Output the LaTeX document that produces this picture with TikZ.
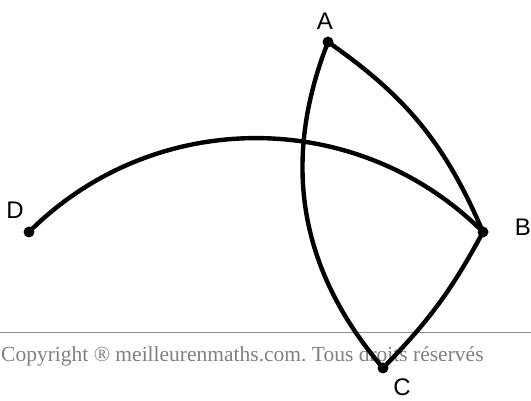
\documentclass[tikz,border=0pt]{standalone}
\usepackage{fontspec}
\setmainfont{Liberation Serif}
\setsansfont{Liberation Sans}
\usetikzlibrary{positioning}
\frenchspacing

\begin{document}
\begin{tikzpicture}[
  x=1pt,y=1pt,
  pt/.style={circle,fill,inner sep=0pt,minimum size=11pt},
  lbl/.style={font=\sffamily\fontsize{24}{24}\selectfont,inner sep=1pt},
  arc/.style={line width=4.4pt},
  note/.style={font=\rmfamily\fontsize{21.5}{21.5}\selectfont,text=black!50},
  rule/.style={draw=black!45,line width=1.2pt}
]
\useasboundingbox (0,0) rectangle (531,401);
\coordinate (rl) at (0,68.5);
\coordinate (rr) at (531,68.5);
\draw[rule] (rl) -- (rr);
\node[note,anchor=base west,inner sep=0pt] (copy) at (1,39)
  {Copyright ® meilleurenmaths.com. Tous droits réservés};

\node[pt] (A) at (328,359) {};
\node[pt] (B) at (483,169) {};
\node[pt] (C) at (383,33) {};
\node[pt] (D) at (29,169) {};

\node[lbl] (lA) at (325,380) {A};
\node[lbl] (lB) at (523,174) {B};
\node[lbl] (lC) at (402,14) {C};
\node[lbl] (lD) at (15,191) {D};

\draw[arc] (D.center) to[bend left=45] (B.center);
\draw[arc] (A.center) to[bend left=16] (B.center);
\draw[arc] (A.center) to[bend right=31] (C.center);
\draw[arc] (B.center) to[bend left=8] (C.center);
\end{tikzpicture}
\end{document}
